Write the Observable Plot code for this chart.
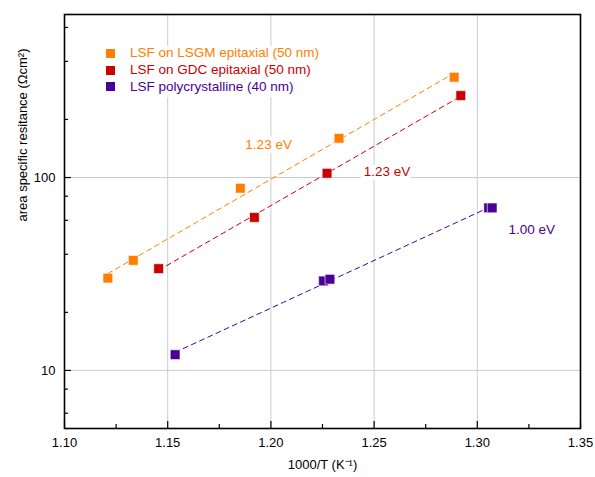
<!DOCTYPE html>
<html><head><meta charset="utf-8">
<script src="https://cdn.jsdelivr.net/npm/d3@7"></script>
<script src="https://cdn.jsdelivr.net/npm/@observablehq/plot@0.6"></script>
<style>
body{margin:0;background:#fff;font-family:"Liberation Sans",Arial,sans-serif;}
#wrap{position:relative;width:595px;height:477px;}
#legend{position:absolute;left:100px;top:46px;width:240px;height:51px;background:#fff;}
.sq{position:absolute;width:9px;height:9px;}
.lt{position:absolute;font-size:13.5px;white-space:nowrap;line-height:16px;}
</style></head><body><div id="wrap"></div>
<script>
// series
const seriesNames = ["LSF on LSGM epitaxial (50 nm)", "LSF on GDC epitaxial (50 nm)", "LSF polycrystalline (40 nm)"];
const seriesColors = ["#FF8000", "#CC0000", "#4B0096"];
const lsgmX = [1.121, 1.1333, 1.1852, 1.233, 1.2888];
const lsgmY = [30.1, 37.2, 88.0, 159.7, 331];
const gdcX = [1.1456, 1.192, 1.2272, 1.292];
const gdcY = [33.7, 62.1, 105.2, 266];
const polyX = [1.1536, 1.2255, 1.2286, 1.3055, 1.3072];
const polyY = [12.07, 29.1, 29.7, 69.6, 69.6];
// activation energy labels
const labelText = ["1.23 eV", "1.23 eV", "1.00 eV"];
const labelX = [1.1989, 1.2562, 1.3264];
const labelY = [148, 107.8, 53.9];
// axes
const xMajor = [1.10, 1.15, 1.20, 1.25, 1.30, 1.35];
const xMinor = [1.125, 1.175, 1.225, 1.275, 1.325];
const xGrid = [1.15, 1.20, 1.25, 1.30];
const yMajor = [10, 100];
const yMinor = [6, 8, 20, 40, 60, 80, 200, 400, 600];
const xTitle = "1000/T (K\u207B\u00B9)";
const yTitle = "area specific resitance (\u03A9cm\u00B2)";

const W = 595, H = 477, mL = 64, mR = 15, mT = 14, mB = 49;
const fW = W - mL - mR, fH = H - mT - mB;

const seriesX = [lsgmX, gdcX, polyX];
const seriesY = [lsgmY, gdcY, polyY];
const rows = [];
seriesNames.forEach((name, k) => seriesX[k].forEach((x, i) => rows.push({series: name, x, y: seriesY[k][i]})));

// least-squares fit in log10 space
const fitRows = [];
seriesNames.forEach((name, k) => {
  const xs = seriesX[k], ls = seriesY[k].map(Math.log10);
  const mx = d3.mean(xs), my = d3.mean(ls);
  const b = d3.sum(xs, (x, i) => (x - mx) * (ls[i] - my)) / d3.sum(xs, x => (x - mx) ** 2);
  const a = my - b * mx;
  const [x0, x1] = d3.extent(xs);
  fitRows.push({series: name, x: x0, y: 10 ** (a + b * x0)}, {series: name, x: x1, y: 10 ** (a + b * x1)});
});
const labels = labelText.map((t, i) => ({text: t, x: labelX[i], y: labelY[i], series: seriesNames[i]}));

const chart = Plot.plot({
  width: W, height: H, marginLeft: mL, marginRight: mR, marginTop: mT, marginBottom: mB,
  style: {fontFamily: "'Liberation Sans', Arial, sans-serif", fontSize: "13px", color: "#000", background: "#fff"},
  x: {domain: [1.10, 1.35]},
  y: {type: "log", domain: [5, 700]},
  color: {domain: seriesNames, range: seriesColors},
  marks: [
    Plot.gridX(xGrid, {stroke: "#cccccc", strokeOpacity: 1, strokeWidth: 1}),
    Plot.gridY(yMajor, {stroke: "#cccccc", strokeOpacity: 1, strokeWidth: 1}),
    Plot.text(labels, {x: "x", y: "y", text: "text", fill: "series", stroke: "white", strokeWidth: 8, fontSize: 13.5}),
    Plot.line(fitRows, {x: "x", y: "y", z: "series", stroke: "series", strokeWidth: 1, strokeDasharray: "5,4"}),
    Plot.dot(rows, {x: "x", y: "y", fill: "series", symbol: "square", r: 5.5, stroke: "white", strokeWidth: 0.6}),
    Plot.tickX(xMajor, {x: d => d, insetTop: fH - 7, stroke: "black", strokeWidth: 1.2}),
    Plot.tickX(xMinor, {x: d => d, insetTop: fH - 4, stroke: "black", strokeWidth: 1.2}),
    Plot.tickY(yMajor, {y: d => d, insetRight: fW - 7, stroke: "black", strokeWidth: 1.2}),
    Plot.tickY(yMinor, {y: d => d, insetRight: fW - 4, stroke: "black", strokeWidth: 1.2}),
    Plot.axisX(xMajor, {tickSize: 0, tickPadding: 9, tickFormat: d3.format(".2f"), label: null, fontSize: 13}),
    Plot.axisY(yMajor, {tickSize: 0, tickPadding: 9, tickFormat: d => String(d), label: null, fontSize: 13}),
    Plot.text([xTitle], {frameAnchor: "bottom", dy: 40, fontSize: 13}),
    Plot.text([yTitle], {frameAnchor: "left", rotate: -90, dx: -42, fontSize: 13}),
    Plot.frame({stroke: "black", strokeWidth: 1.6})
  ]
});
const wrap = document.getElementById("wrap");
wrap.appendChild(chart);

// legend overlay (inside plot, white box)
const legend = document.createElement("div");
legend.id = "legend";
seriesNames.forEach((name, i) => {
  const top = 7.3 + i * 16.7;
  const sq = document.createElement("div");
  sq.className = "sq";
  sq.style.left = (10 - 4.5) + "px";
  sq.style.top = (top - 4.5) + "px";
  sq.style.background = seriesColors[i];
  const t = document.createElement("div");
  t.className = "lt";
  t.style.left = "30px";
  t.style.top = (top - 8) + "px";
  t.style.color = seriesColors[i];
  t.textContent = name;
  legend.appendChild(sq);
  legend.appendChild(t);
});
wrap.appendChild(legend);
</script>
</body></html>
